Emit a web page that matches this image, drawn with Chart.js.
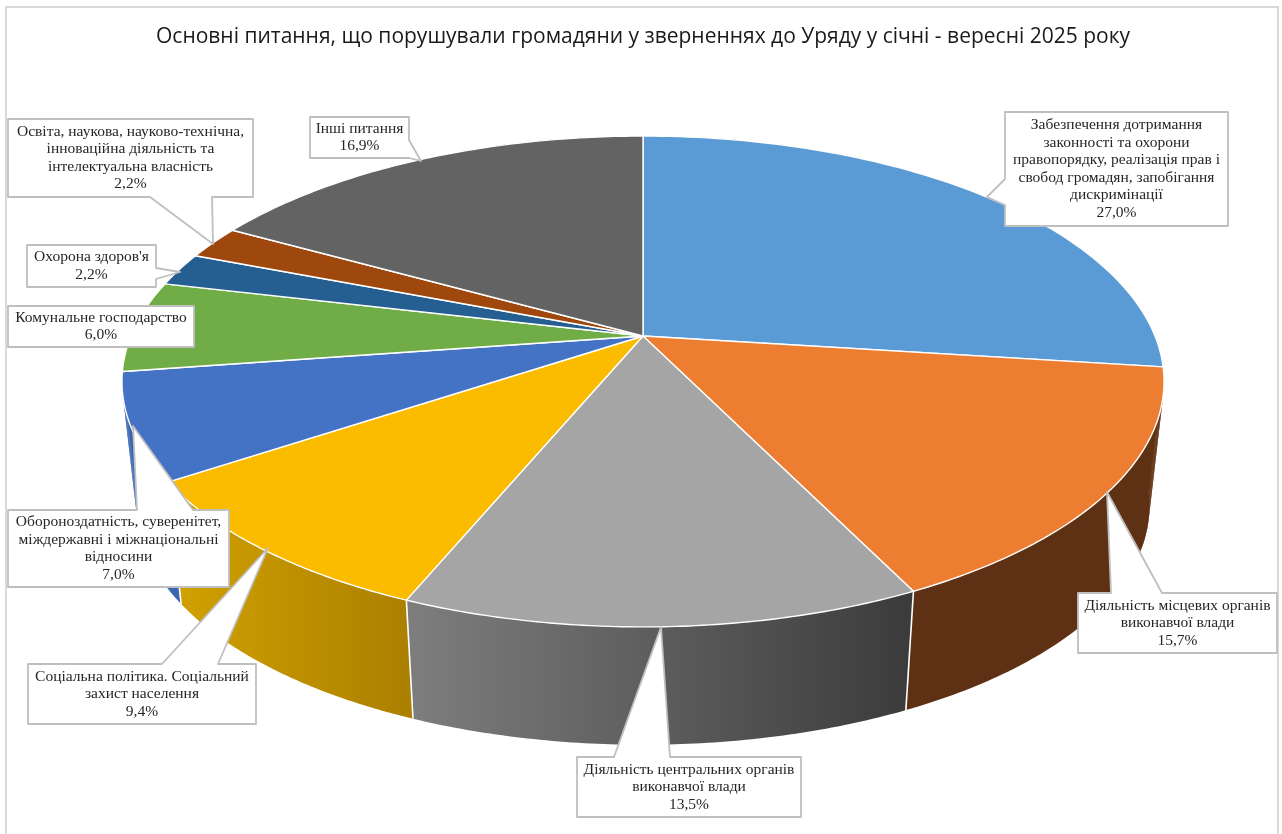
<!DOCTYPE html>
<html lang="uk">
<head>
<meta charset="utf-8">
<title>Основні питання</title>
<script src="https://cdn.jsdelivr.net/npm/chart.js@4"></script>
<style>
    html, body { margin: 0; padding: 0; background: #fff; overflow: hidden; }
    canvas { display: block; }
</style>
</head>
<body>
<canvas id="pie-chart" width="1282" height="834"></canvas>
<script>
// Дані
const chartTitle = 'Основні питання, що порушували громадяни у зверненнях до Уряду у січні - вересні 2025 року';

const categories = [
    ['Забезпечення дотримання', 'законності та охорони', 'правопорядку, реалізація прав і', 'свобод громадян, запобігання', 'дискримінації'],
    ['Діяльність місцевих органів', 'виконавчої влади'],
    ['Діяльність центральних органів', 'виконавчої влади'],
    ['Соціальна політика. Соціальний', 'захист населення'],
    ['Обороноздатність, суверенітет,', 'міждержавні і міжнаціональні', 'відносини'],
    ['Комунальне господарство'],
    ["Охорона здоров'я"],
    ['Освіта, наукова, науково-технічна,', 'інноваційна діяльність та', 'інтелектуальна власність'],
    ['Інші питання']
];

const values = [27.0, 15.7, 13.5, 9.4, 7.0, 6.0, 2.2, 2.2, 16.9];

// Кольори
const topColors = ['#5B9BD5', '#ED7D31', '#A5A5A5', '#FBBC00', '#4472C4', '#70AD47', '#255E91', '#9E480E', '#636363'];
// перша і шоста стінки видно лише як смужку на краю, тому колір сусідньої
const sideColors = [
    ['#5f3114', '#5f3114'],
    ['#5f3114', '#5f3114'],
    ['#7e7e7e', '#3b3b3b'],
    ['#d2a200', '#ab7f00'],
    ['#3a66b0', '#3a66b0'],
    ['#3a66b0', '#3a66b0'],
    ['#1a4266', '#1a4266'],
    ['#6e320a', '#6e320a'],
    ['#454545', '#454545']
];

// Перспектива кола: центр, півосі, нахил, висота стінки
const view = { cx: 643, cy: 336, a: 512, b: 237, k: 0.1853, depth: 126, depthScale: 0.972 };

// Рамки підписів: x0, y0, x1, y1 + клин (основа і вістря)
const callouts = [
    { box: [1005, 112, 1228, 226], wedge: [[1005, 205], [987, 197], [1005, 179]] },
    { box: [1078, 593, 1277, 653], wedge: [[1111, 593], [1107, 492], [1162, 593]] },
    { box: [577, 757, 801, 817], wedge: [[614, 757], [661, 627], [670, 757]] },
    { box: [28, 664, 256, 724], wedge: [[162, 664], [268, 548], [218, 664]] },
    { box: [8, 510, 229, 587], wedge: [[137, 510], [133, 426], [193, 510]] },
    { box: [8, 306, 194, 347], wedge: null },
    { box: [27, 245, 156, 287], wedge: [[156, 268], [180, 272], [156, 279]] },
    { box: [8, 119, 253, 197], wedge: [[212, 197], [213, 244], [150, 197]] },
    { box: [310, 117, 409, 158], wedge: [[409, 140], [421, 161], [409, 158]] }
];

const wallSteps = 80;

function project(angle, bottom) {
    const u = Math.cos(angle), v = Math.sin(angle);
    const f = 1 / (1 - view.k * v);
    const s = bottom ? view.depthScale : 1;
    return {
        x: view.cx + view.a * u * f * s,
        y: view.cy + view.b * v * f * s + (bottom ? view.depth : 0)
    };
}

function arcPoints(start, end, bottom) {
    const pts = [];
    for (let i = 0; i <= wallSteps; i++) {
        pts.push(project(start + (end - start) * i / wallSteps, bottom));
    }
    return pts;
}

function traceWedge(ctx, w) {
    w.forEach(p => ctx.lineTo(p[0], p[1]));
}

// Стінки й верх малюємо самі, кути беремо з дуг Chart.js
const pie3d = {
    id: 'pie3d',
    beforeDatasetDraw(chart, args) {
        const ctx = chart.ctx;
        const arcs = args.meta.data;

        arcs.forEach((arc, i) => {
            const top = arcPoints(arc.startAngle, arc.endAngle, false);
            const bot = arcPoints(arc.startAngle, arc.endAngle, true);
            const xs = top.concat(bot).map(p => p.x);
            const grad = ctx.createLinearGradient(Math.min(...xs), 0, Math.max(...xs), 0);
            grad.addColorStop(0, sideColors[i][0]);
            grad.addColorStop(1, sideColors[i][1]);
            ctx.fillStyle = grad;

            ctx.beginPath();
            top.forEach((p, j) => (j === 0 ? ctx.moveTo(p.x, p.y) : ctx.lineTo(p.x, p.y)));
            bot.slice().reverse().forEach(p => ctx.lineTo(p.x, p.y));
            ctx.closePath();
            ctx.fill();

            // біля дотичної контур перекручується, тут докладаємо смужки
            for (let j = 0; j < wallSteps; j++) {
                const s = Math.sin(arc.startAngle + (arc.endAngle - arc.startAngle) * j / wallSteps);
                if (s < 0 || s > 0.4) continue;
                ctx.beginPath();
                ctx.moveTo(top[j].x, top[j].y);
                ctx.lineTo(top[j + 1].x, top[j + 1].y);
                ctx.lineTo(bot[j + 1].x, bot[j + 1].y);
                ctx.lineTo(bot[j].x, bot[j].y);
                ctx.closePath();
                ctx.fill();
            }
        });

        // білі лінії лише на передніх стиках стінок
        ctx.strokeStyle = '#ffffff';
        ctx.lineWidth = 1.6;
        arcs.forEach(arc => {
            if (Math.sin(arc.startAngle) < 0.2) return;
            const a = project(arc.startAngle, false);
            const b = project(arc.startAngle, true);
            ctx.beginPath();
            ctx.moveTo(a.x, a.y);
            ctx.lineTo(b.x, b.y);
            ctx.stroke();
        });

        arcs.forEach(arc => {
            const o = arc.options;
            ctx.beginPath();
            ctx.moveTo(view.cx, view.cy);
            arcPoints(arc.startAngle, arc.endAngle, false).forEach(p => ctx.lineTo(p.x, p.y));
            ctx.closePath();
            ctx.fillStyle = o.backgroundColor;
            ctx.fill();
            ctx.strokeStyle = o.borderColor;
            ctx.lineWidth = o.borderWidth;
            ctx.lineJoin = 'round';
            ctx.stroke();
        });
        return false;
    },
    beforeDraw(chart) {
        const ctx = chart.ctx;
        ctx.save();
        ctx.strokeStyle = '#d9d9d9';
        ctx.lineWidth = 2;
        ctx.strokeRect(6, 7, 1272, 900);
        ctx.restore();
    },
    afterDraw(chart) {
        const ctx = chart.ctx;
        ctx.save();
        chart.data.labels.forEach((lines, i) => {
            const c = callouts[i];
            const [x0, y0, x1, y1] = c.box;
            const w = c.wedge;
            ctx.beginPath();
            ctx.moveTo(x0, y0);
            if (w && w[0][1] === y0) traceWedge(ctx, w);
            ctx.lineTo(x1, y0);
            if (w && w[0][0] === x1) traceWedge(ctx, w);
            ctx.lineTo(x1, y1);
            if (w && w[0][1] === y1) traceWedge(ctx, w);
            ctx.lineTo(x0, y1);
            if (w && w[0][0] === x0) traceWedge(ctx, w);
            ctx.closePath();
            ctx.fillStyle = '#ffffff';
            ctx.fill();
            ctx.strokeStyle = '#bfbfbf';
            ctx.lineWidth = 1.8;
            ctx.stroke();

            const percent = values[i].toFixed(1).replace('.', ',') + '%';
            const text = lines.concat(percent);
            const lh = 17.5;
            const mid = (y0 + y1) / 2;
            ctx.fillStyle = '#262626';
            ctx.font = '15.5px "Liberation Serif"';
            ctx.textAlign = 'center';
            ctx.textBaseline = 'middle';
            text.forEach((t, n) => {
                ctx.fillText(t, (x0 + x1) / 2, mid + (n - (text.length - 1) / 2) * lh);
            });
        });
        ctx.restore();
    }
};

new Chart(document.getElementById('pie-chart'), {
    type: 'pie',
    data: {
        labels: categories,
        datasets: [{
            data: values,
            backgroundColor: topColors,
            borderColor: '#ffffff',
            borderWidth: 1.4
        }]
    },
    options: {
        responsive: false,
        animation: false,
        layout: { padding: { left: 4 } },
        plugins: {
            legend: { display: false },
            tooltip: { enabled: false },
            title: {
                display: true,
                text: chartTitle,
                color: '#1a1a1a',
                font: { family: '"Open Sans"', size: 21, weight: 'normal' },
                padding: { top: 24, bottom: 10 }
            }
        }
    },
    plugins: [pie3d]
});
</script>
</body>
</html>
